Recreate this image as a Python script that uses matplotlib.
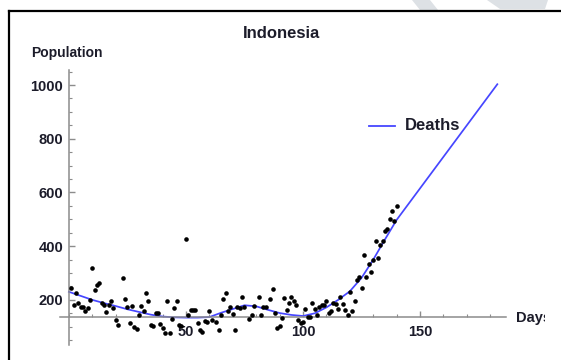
import matplotlib
matplotlib.use("Agg")
import matplotlib.pyplot as plt
from matplotlib.lines import Line2D
from matplotlib.patches import Polygon, Rectangle
from matplotlib.ticker import MultipleLocator, FixedLocator

plt.rcParams['font.family'] = ['Liberation Sans', 'DejaVu Sans']

# Daily reported deaths (day number, count)
days = [1, 2, 3, 4, 5, 6, 7, 8, 9, 10, 11, 12, 13, 14, 15, 16, 17, 18, 19, 20,
        21, 23, 24, 25, 26, 27, 28, 29, 30, 31, 32, 33, 34, 35, 36, 37, 38, 39, 40,
        41, 42, 43, 44, 45, 46, 47, 48, 50, 51, 52, 53, 54, 55, 56, 57, 58, 59, 60,
        61, 63, 64, 65, 66, 67, 68, 69, 70, 71, 72, 73, 74, 75, 77, 78, 79, 81, 82,
        83, 84, 86, 87, 88, 89, 90, 91, 92, 93, 94, 95, 96, 97, 98, 99, 100, 101,
        102, 103, 104, 105, 106, 107, 108, 109, 110, 111, 112, 113, 114, 115, 116,
        117, 118, 119, 120, 121, 122, 123, 124, 125, 126, 127, 128, 129, 130, 131,
        132, 133, 134, 135, 136, 137, 138, 139, 140]
deaths = [244, 181, 225, 188, 175, 175, 160, 169, 200, 318, 237, 256, 262, 188, 181,
          156, 181, 197, 169, 125, 107, 281, 203, 172, 113, 178, 98, 91, 144, 178,
          160, 225, 194, 107, 101, 153, 150, 111, 94, 78, 194, 78, 128, 169, 194,
          107, 101, 426, 144, 163, 163, 163, 115, 88, 82, 123, 119, 160, 125, 119,
          88, 144, 202, 225, 159, 172, 147, 88, 172, 169, 212, 172, 128, 144, 178,
          209, 144, 175, 175, 202, 240, 150, 94, 101, 132, 206, 163, 187, 212, 195,
          181, 125, 113, 119, 165, 138, 138, 188, 165, 144, 172, 181, 181, 197, 150,
          159, 187, 184, 165, 210, 184, 163, 144, 231, 159, 194, 274, 287, 243, 368,
          287, 334, 302, 349, 420, 355, 405, 420, 457, 463, 502, 531, 492, 550]

# Fitted model curve
fit_days = [0, 5, 10, 15, 20, 25, 30, 35, 40, 45, 50, 55, 60, 65, 70, 75, 80, 85,
            90, 95, 100, 105, 110, 115, 120, 125, 130, 135, 140, 183]
fit_deaths = [230, 215, 200, 188, 177, 165, 155, 145, 138, 135, 134, 134, 136, 152,
              166, 180, 176, 163, 151, 144, 140, 150, 172, 200, 232, 282, 350, 425,
              498, 1003]

y_major = [200, 400, 600, 800, 1000]
x_major = [50, 100, 150]

W, H = 561, 360
fig = plt.figure(figsize=(W / 100, H / 100), dpi=100)


def fx(px):
    return px / W


def fy(py):
    return 1 - py / H


ax = fig.add_axes([fx(60), fy(345), (506 - 60) / W, (345 - 70) / H])
ax.set_xlim(-3.8, 186.7)
ax.set_ylim(32, 1056)
ax.patch.set_visible(False)

axis_grey = '#8c8c8c'
text_col = '#1c1c2a'
for side in ('top', 'right'):
    ax.spines[side].set_visible(False)
ax.spines['left'].set_position(('data', 0))
ax.spines['bottom'].set_position(('data', 137))
for side in ('left', 'bottom'):
    ax.spines[side].set_color(axis_grey)
    ax.spines[side].set_linewidth(1.1)

ax.yaxis.set_major_locator(FixedLocator(y_major))
ax.yaxis.set_minor_locator(MultipleLocator(50))
ax.xaxis.set_major_locator(FixedLocator(x_major))
ax.xaxis.set_minor_locator(MultipleLocator(10))
ax.tick_params(axis='both', which='both', direction='in', color=axis_grey,
               labelcolor=text_col)
ax.tick_params(axis='y', which='major', length=4, width=1, pad=4)
ax.tick_params(axis='y', which='minor', length=2.5, width=0.8)
ax.tick_params(axis='x', which='major', length=4, width=1, pad=6)
ax.tick_params(axis='x', which='minor', length=2.5, width=0.8)
for lab in ax.get_xticklabels() + ax.get_yticklabels():
    lab.set_fontsize(10.5)
    lab.set_fontweight('bold')

blue = '#4646ff'
ax.plot(fit_days, fit_deaths, color=blue, lw=1.25, zorder=2)
ax.plot(days, deaths, 'o', color='black', ms=3.3, mec='none', zorder=3)

# Title, axis labels, legend
fig.text(fx(282), fy(33), 'Indonesia', ha='center', va='center', fontsize=12,
         fontweight='bold', color=text_col)
fig.text(fx(31), fy(53), 'Population', ha='left', va='center', fontsize=10,
         fontweight='bold', color=text_col)
fig.text(fx(516), fy(318), 'Days', ha='left', va='center', fontsize=10.5,
         fontweight='bold', color=text_col)
fig.add_artist(Line2D([fx(369), fx(395)], [fy(126), fy(126)], color=blue, lw=1.3,
                      transform=fig.transFigure))
fig.text(fx(405), fy(126), 'Deaths', ha='left', va='center', fontsize=12,
         fontweight='bold', color=text_col)

# Cropped right margin and border lines
fig.add_artist(Rectangle((fx(545), 0), 1 - fx(545), fy(14), transform=fig.transFigure,
                         facecolor='white', edgecolor='none', zorder=20))
fig.add_artist(Line2D([fx(9), 1], [fy(11), fy(11)], color='black', lw=1.6,
                      transform=fig.transFigure, zorder=21))
fig.add_artist(Line2D([fx(9), fx(9)], [fy(11), 0], color='black', lw=1.6,
                      transform=fig.transFigure, zorder=21))

# Faint decorative shapes above the border
for pts in ([(412, 0), (430, 0), (438, 10), (420, 10)],
            [(487, 0), (548, 0), (545, 9), (500, 9)]):
    fig.add_artist(Polygon([(fx(a), fy(b)) for a, b in pts], closed=True,
                           transform=fig.transFigure, facecolor='#dde1e5',
                           edgecolor='none', zorder=19))

fig.savefig('out.png', dpi=100)
